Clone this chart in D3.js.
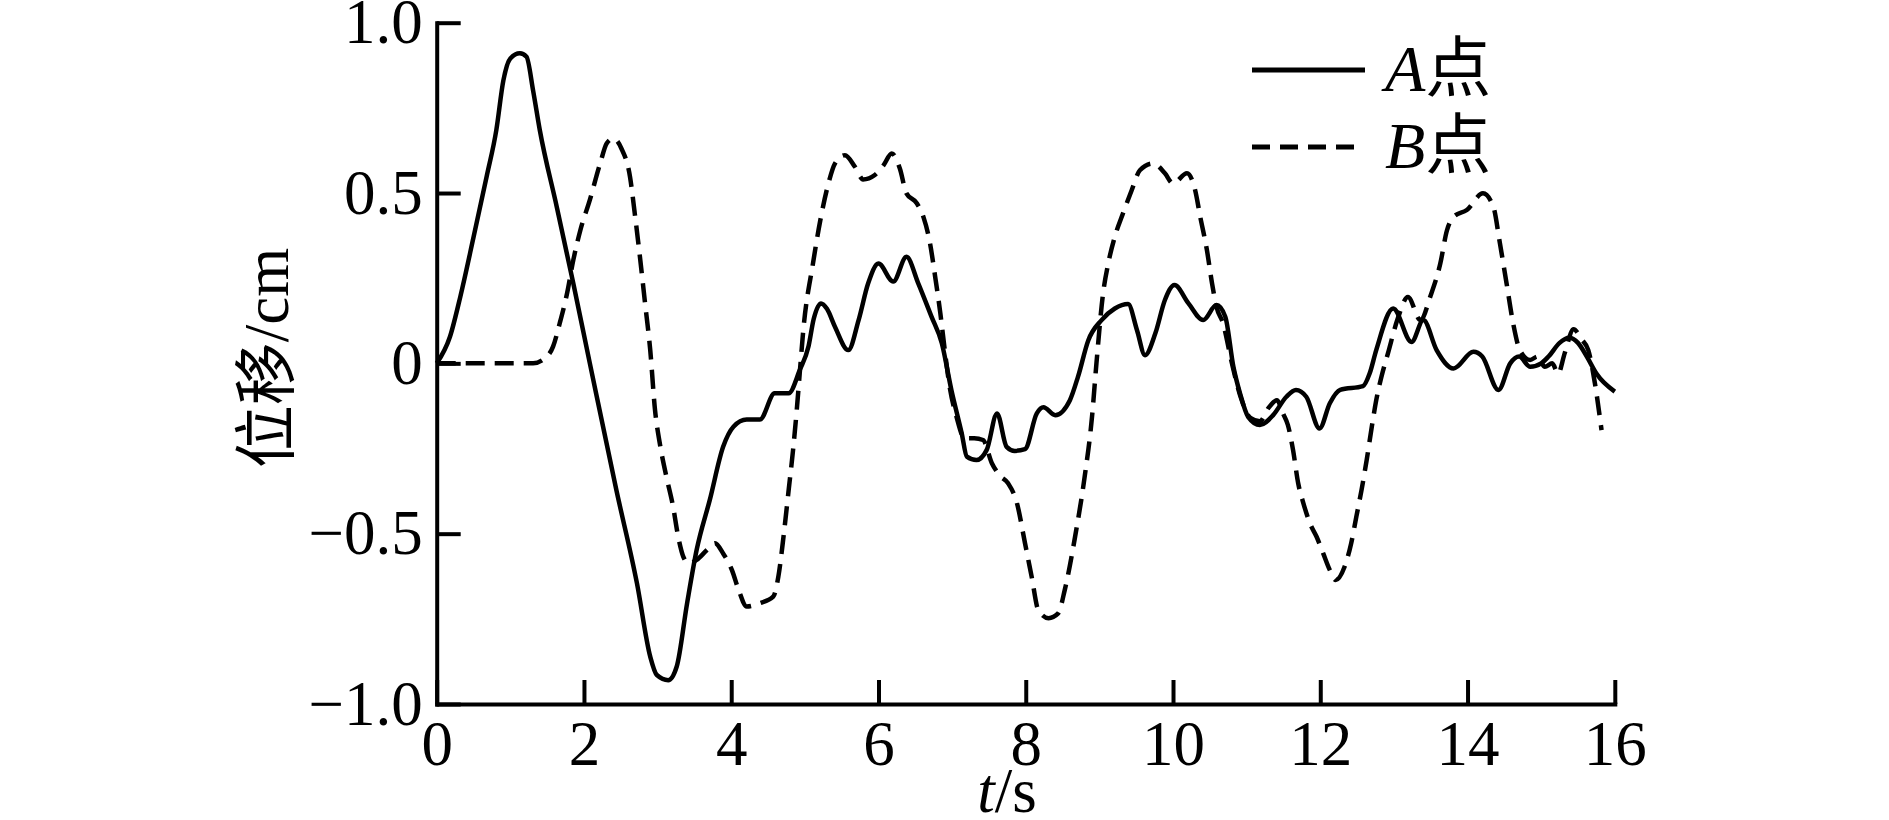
<!DOCTYPE html>
<html>
<head>
<meta charset="utf-8">
<script src="https://cdn.jsdelivr.net/npm/d3@7"></script>
<style>
  html, body { margin: 0; padding: 0; background: #fff; }
  svg { display: block; }
  text { font-family: "Liberation Serif", "Noto Sans CJK SC", serif; fill: #000; }
</style>
</head>
<body>
<svg id="chart" width="1889" height="820"></svg>
<script>
// ---- data ----
const timeA = [0,0.18,0.32,0.50,0.68,0.81,0.905,1.0,1.13,1.22,1.31,1.40,1.63,1.855,2.08,2.44,2.72,2.90,2.99,3.145,3.26,3.40,3.53,3.71,3.89,4.03,4.21,4.39,4.59,4.78,4.93,5.05,5.12,5.22,5.30,5.41,5.59,5.73,5.86,6.00,6.20,6.38,6.54,6.72,6.86,6.99,7.13,7.20,7.33,7.47,7.61,7.74,7.85,7.99,8.15,8.24,8.40,8.60,8.71,8.85,9.03,9.21,9.39,9.51,9.62,9.76,9.89,10.02,10.21,10.41,10.59,10.71,10.82,10.91,11.02,11.18,11.36,11.54,11.67,11.81,11.99,12.13,12.27,12.58,12.67,12.76,12.99,13.24,13.40,13.58,13.81,14.08,14.20,14.42,14.58,14.70,14.85,15.00,15.10,15.25,15.38,15.50,15.62,15.75,16.0];
const dispA = [0,0.078,0.195,0.37,0.55,0.685,0.83,0.895,0.91,0.90,0.80,0.685,0.46,0.235,0.0,-0.372,-0.646,-0.861,-0.915,-0.93,-0.89,-0.705,-0.548,-0.40,-0.245,-0.186,-0.165,-0.165,-0.088,-0.088,-0.02,0.05,0.13,0.176,0.16,0.107,0.039,0.127,0.235,0.293,0.24,0.313,0.235,0.137,0.059,-0.078,-0.205,-0.274,-0.284,-0.254,-0.147,-0.245,-0.257,-0.252,-0.147,-0.129,-0.152,-0.108,-0.039,0.068,0.127,0.161,0.174,0.098,0.024,0.088,0.186,0.23,0.176,0.127,0.171,0.137,-0.01,-0.088,-0.157,-0.181,-0.152,-0.098,-0.078,-0.098,-0.191,-0.117,-0.078,-0.067,-0.03,0.039,0.161,0.063,0.127,0.039,-0.015,0.034,0.02,-0.078,0.0,0.02,-0.01,0.0,0.02,0.06,0.075,0.06,0.02,-0.03,-0.083];

const timeB = [0,0.5,1.0,1.31,1.47,1.58,1.67,1.77,1.855,1.95,2.08,2.22,2.31,2.40,2.51,2.625,2.69,2.76,2.83,2.90,2.965,3.03,3.12,3.21,3.28,3.35,3.42,3.53,3.67,3.78,3.89,4.01,4.10,4.21,4.39,4.57,4.64,4.71,4.78,4.84,4.89,4.93,4.98,5.11,5.21,5.32,5.41,5.545,5.68,5.79,5.95,6.07,6.18,6.29,6.38,6.52,6.61,6.70,6.77,6.84,6.90,6.96,7.06,7.17,7.30,7.42,7.54,7.65,7.76,7.88,7.99,8.08,8.17,8.31,8.44,8.53,8.67,8.80,8.90,8.96,9.05,9.12,9.21,9.32,9.44,9.55,9.73,9.89,10.0,10.19,10.30,10.37,10.46,10.53,10.59,10.68,10.80,10.92,11.05,11.18,11.30,11.41,11.50,11.56,11.63,11.70,11.77,11.86,11.95,12.04,12.13,12.21,12.33,12.42,12.49,12.56,12.63,12.70,12.76,12.83,12.92,13.05,13.19,13.36,13.50,13.63,13.72,13.81,13.99,14.21,14.35,14.44,14.53,14.62,14.71,14.85,14.95,15.05,15.15,15.23,15.32,15.44,15.55,15.64,15.73,15.82];
const dispB = [0,0,0,0,0.015,0.049,0.117,0.205,0.303,0.39,0.48,0.587,0.646,0.66,0.63,0.548,0.44,0.313,0.176,0.039,-0.137,-0.235,-0.333,-0.42,-0.509,-0.568,-0.587,-0.577,-0.548,-0.528,-0.558,-0.607,-0.665,-0.714,-0.704,-0.685,-0.626,-0.509,-0.372,-0.254,-0.137,-0.03,0.1,0.293,0.42,0.528,0.587,0.611,0.577,0.54,0.553,0.582,0.616,0.572,0.499,0.47,0.43,0.352,0.254,0.147,0.039,-0.06,-0.157,-0.22,-0.22,-0.225,-0.293,-0.33,-0.352,-0.41,-0.528,-0.626,-0.724,-0.748,-0.734,-0.665,-0.509,-0.333,-0.157,0.0,0.205,0.293,0.372,0.44,0.509,0.567,0.587,0.558,0.528,0.558,0.509,0.43,0.333,0.235,0.166,0.117,0.0,-0.1,-0.16,-0.17,-0.13,-0.108,-0.15,-0.181,-0.254,-0.352,-0.41,-0.47,-0.509,-0.558,-0.607,-0.636,-0.597,-0.528,-0.45,-0.372,-0.284,-0.186,-0.108,-0.04,0.03,0.13,0.195,0.127,0.2,0.293,0.39,0.43,0.45,0.499,0.46,0.352,0.235,0.117,0.039,0.01,0.02,-0.01,0.0,-0.03,0.03,0.10,0.07,0.039,-0.059,-0.196];

const xTicks = [0,2,4,6,8,10,12,14,16];
const yTicks = [1.0,0.5,0,-0.5,-1.0];
const yTickLabels = ["1.0","0.5","0","\u22120.5","\u22121.0"];
const seriesNames = ["A","B"];
const xLabel = ["t","/s"];
const yLabel = "位移/cm";

// ---- drawing ----
const svg = d3.select("#chart");
const fs = 63;
const x = d3.scaleLinear().domain([0,16]).range([436.7,1614.8]);
const y = d3.scaleLinear().domain([-1,1]).range([704,22.7]);

const line = d3.line().x(d => x(d[0])).y(d => y(d[1])).curve(d3.curveMonotoneX);
const dataA = timeA.map((t,i) => [t, dispA[i]]);
const dataB = timeB.map((t,i) => [t, dispB[i]]);

svg.append("path").datum(dataB).attr("d", line)
  .attr("fill","none").attr("stroke","#000").attr("stroke-width",4.5)
  .attr("stroke-dasharray","19,10").attr("stroke-linejoin","round");
svg.append("path").datum(dataA).attr("d", line)
  .attr("fill","none").attr("stroke","#000").attr("stroke-width",4.5)
  .attr("stroke-linejoin","round");

// axes
const yAxis = d3.axisLeft(y).tickValues(yTicks)
  .tickFormat((d,i) => yTickLabels[i]).tickSizeInner(-24).tickSizeOuter(0).tickPadding(14);
const gy = svg.append("g").attr("transform",`translate(${x(0)},0)`).call(yAxis);

const xAxis = d3.axisBottom(x).tickValues(xTicks).tickFormat(d3.format("d"))
  .tickSizeInner(-24).tickSizeOuter(0).tickPadding(16);
const gx = svg.append("g").attr("transform",`translate(0,${y(-1)})`).call(xAxis);

[gy, gx].forEach(g => {
  g.selectAll("path.domain").attr("stroke","#000").attr("stroke-width",4).attr("stroke-linecap","square");
  g.selectAll(".tick line").attr("stroke","#000").attr("stroke-width",4);
  g.selectAll(".tick text").attr("font-size",fs).attr("font-family","Liberation Serif").attr("fill","#000");
});

// axis titles
const xt = svg.append("text").attr("x", 1007).attr("y", 812).attr("text-anchor","middle").attr("font-size",fs);
xt.append("tspan").attr("font-style","italic").text(xLabel[0]);
xt.append("tspan").text(xLabel[1]);

svg.append("text").attr("transform","translate(288,358) rotate(-90)")
  .attr("text-anchor","middle").attr("font-size",fs).text(yLabel);

// legend
const legY = [70,147];
const legBase = [91,168];
seriesNames.forEach((n,i) => {
  svg.append("line").attr("x1",1252).attr("x2", i===0 ? 1365 : 1356)
    .attr("y1",legY[i]).attr("y2",legY[i])
    .attr("stroke","#000").attr("stroke-width",5)
    .attr("stroke-dasharray", i===0 ? null : "18,10");
  const t = svg.append("text").attr("x",1385).attr("y",legBase[i]).attr("font-size",66);
  t.append("tspan").attr("font-style","italic").text(n);
  t.append("tspan").text("点");
});
</script>
</body>
</html>
